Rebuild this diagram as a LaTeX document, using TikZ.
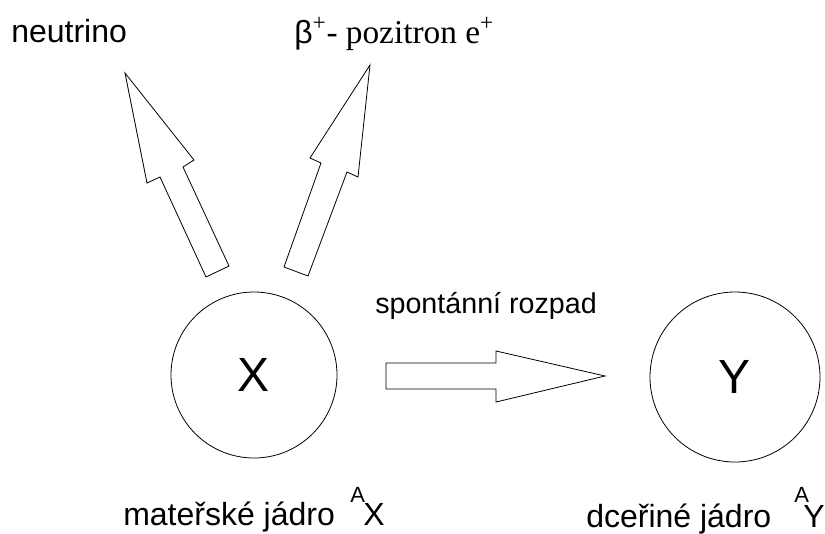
\documentclass[tikz,border=0pt]{standalone}
\usepackage{fontspec}
\setmainfont{Liberation Sans}
\newfontfamily\serifx{Liberation Serif}
\begin{document}
\begin{tikzpicture}[x=0.75pt,y=-0.75pt,
  lbl/.style={inner sep=0pt,anchor=base west,font=\fontsize{24pt}{28pt}\selectfont},
  slbl/.style={inner sep=0pt,anchor=base west,font=\fontsize{16.5pt}{20pt}\selectfont},
  nucleus/.style={draw,circle,inner sep=0pt,line width=0.6pt,font=\fontsize{36pt}{40pt}\selectfont},
  blockarrow/.style={draw,line width=0.6pt,line join=miter,fill=white}]
\useasboundingbox (0,0) rectangle (825,533);
% nuclei
\node[nucleus,minimum size=124.5pt] (X) at (254,375) {X};
\node[nucleus,minimum size=127.5pt] (Y) at (735,377) {Y};
% labels
\node[lbl] (neu) at (11,42) {neutrino};
\node[lbl] (pos) at (294,43) {β{\serifx\fontsize{25pt}{28pt}\selectfont\textsuperscript{+}- pozitron e\textsuperscript{+}}};
\node[lbl,font=\fontsize{21.5pt}{26pt}\selectfont] (spon) at (375,313) {spontánní rozpad};
\node[lbl] (mat) at (123,525) {mateřské jádro};
\node[slbl] (matA) at (350,502) {A};
\node[lbl] (matX) at (363,525) {X};
\node[lbl] (dce) at (586,527) {dceřiné jádro};
\node[slbl] (dceA) at (794,502) {A};
\node[lbl] (dceY) at (803,527) {Y};
% horizontal block arrow
\coordinate (h1) at (386,363);
\coordinate (h2) at (496,363);
\coordinate (h3) at (496,351);
\coordinate (htip) at (605,376);
\coordinate (h4) at (496,402);
\coordinate (h5) at (496,389);
\coordinate (h6) at (386,389);
\draw[blockarrow] (h1) -- (h2) -- (h3) -- (htip) -- (h4) -- (h5) -- (h6) -- cycle;
% neutrino arrow
\coordinate (ntip) at (125,73);
\coordinate (n1) at (147,183);
\coordinate (n2) at (160,177);
\coordinate (n3) at (206,277);
\coordinate (n4) at (229,266);
\coordinate (n5) at (183,167);
\coordinate (n6) at (194,160);
\draw[blockarrow] (ntip) -- (n1) -- (n2) -- (n3) -- (n4) -- (n5) -- (n6) -- cycle;
% positron arrow
\coordinate (ptip) at (370,65);
\coordinate (p1) at (310,158);
\coordinate (p2) at (321,163);
\coordinate (p3) at (284,267);
\coordinate (p4) at (308,276);
\coordinate (p5) at (347,172);
\coordinate (p6) at (358,177);
\draw[blockarrow] (ptip) -- (p1) -- (p2) -- (p3) -- (p4) -- (p5) -- (p6) -- cycle;
\end{tikzpicture}
\end{document}
